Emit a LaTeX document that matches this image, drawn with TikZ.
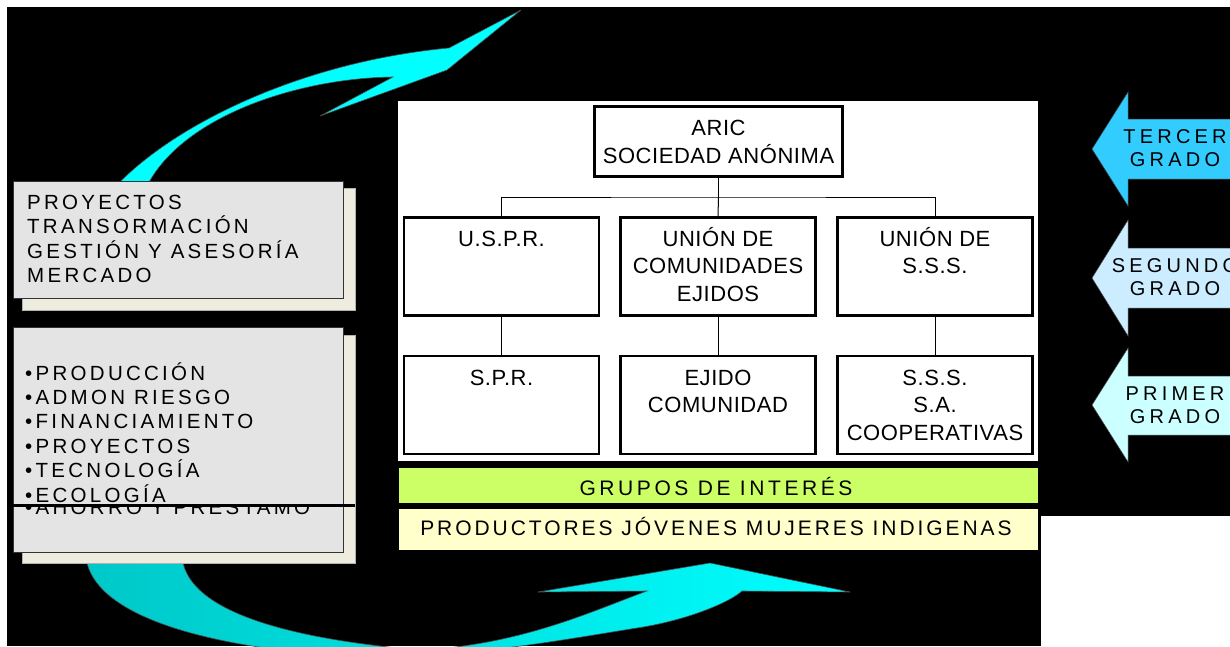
\documentclass[tikz,border=0pt]{standalone}
\usepackage{fontspec}
\setmainfont{Liberation Sans}
\newfontfamily\spaced[LetterSpace=16]{Liberation Sans}
\newfontfamily\widesp[LetterSpace=21]{Liberation Sans}
\newfontfamily\barsp[LetterSpace=14]{Liberation Sans}
\newfontfamily\grsp[LetterSpace=17]{Liberation Sans}
\newfontfamily\orgsp[LetterSpace=2.5]{Liberation Sans}
\definecolor{cyanA}{HTML}{00FFFF}
\definecolor{tealA}{HTML}{00C8C8}
\definecolor{tercer}{HTML}{33CCFF}
\definecolor{segundo}{HTML}{CCECFF}
\definecolor{primer}{HTML}{CCFFFF}
\definecolor{granite}{HTML}{E4E4E4}
\definecolor{beige}{HTML}{EEEBDF}
\definecolor{grupo}{HTML}{CCFF66}
\definecolor{prodc}{HTML}{FFFFCC}
\tikzset{
 curvarrow/.style={draw=gray!60!black, line width=0.6pt},
 blockarrow/.style={draw=gray!50!black, line width=0.5pt},
 gradotxt/.style={font=\widesp\fontsize{20}{23.5}\selectfont, align=center, inner sep=0, anchor=base},
 granbox/.style={draw=gray!40!black, line width=1pt, fill=granite, inner sep=0},
 shadowbox/.style={draw=gray!60, line width=1pt, fill=beige, inner sep=0},
 lefttxt/.style={font=\spaced\fontsize{20.5}{24.4}\selectfont, align=left, inner sep=0, anchor=base west},
 orgbox/.style={draw, line width=2.6pt, fill=white, inner sep=0, minimum width=195, minimum height=98},
 orgtxt/.style={font=\orgsp\fontsize{22}{27.5}\selectfont, align=center, inner sep=0, anchor=base},
 conn/.style={line width=1pt},
 barbox/.style={draw=black, line width=1pt, inner sep=0, minimum width=640},
}
\begin{document}
\begin{tikzpicture}[x=1pt,y=-1pt]
\useasboundingbox (0,0) rectangle (1230,646);
\clip (0,0) rectangle (1230,646);
\fill[white] (0,0) rectangle (1230,646);
\fill[black] (7,7) rectangle (1230,646);
\fill[white] (1041,516) rectangle (1230,646);

% curved arrows
\path[curvarrow, fill=cyanA] (118,184) .. controls (175,125) and (300,62) .. (449,48) -- (521,10) -- (447,70) -- (320,116) -- (393,77) .. controls (300,78) and (185,115) .. (148,184) -- cycle;
\path[curvarrow, left color=tealA, right color=cyanA] (87,563) .. controls (100,615) and (200,645) .. (330,655) .. controls (450,662) and (560,640) .. (643,627) .. controls (690,619) and (730,602) .. (742,591) -- (850,592) -- (710,563) -- (538,592) -- (647,591) .. controls (590,612) and (520,645) .. (420,650) .. controls (300,640) and (195,615) .. (183,563) -- cycle;

% left boxes
\node[shadowbox, minimum width=333, minimum height=122] (sh1) at (188.5,249) {};
\node[granbox, minimum width=330, minimum height=117] (box1) at (178,239.5) {};
\node[lefttxt] (box1T) at (27,282.5) {PROYECTOS\\TRANSORMACIÓN\\GESTIÓN Y ASESORÍA\\MERCADO};
\node[shadowbox, minimum width=333, minimum height=228] (sh2) at (188.5,449) {};
\node[granbox, minimum width=330, minimum height=225] (box2) at (178,439.5) {};
\node[lefttxt] (box2T) at (25,502) {•PRODUCCIÓN\\•ADMON RIESGO\\•FINANCIAMIENTO\\•PROYECTOS\\•TECNOLOGÍA\\•ECOLOGÍA};
\begin{scope}
\clip (13,507) rectangle (343,552);
\node[lefttxt] (ahorro) at (25,514) {•AHORRO Y PRESTAMO};
\end{scope}
\draw[line width=3pt] (13,505) -- (355,505);

% center panel
\node[fill=white, inner sep=0, minimum width=640, minimum height=360] (panel) at (718,281) {};
\node[orgbox, minimum width=248, minimum height=70] (aric) at (718.5,141.5) {};
\node[orgtxt, font=\orgsp\fontsize{22}{28}\selectfont] (aricT) at (718.5,163) {ARIC\\SOCIEDAD ANÓNIMA};
\node[orgbox] (uspr) at (501.5,266.5) {};
\node[orgbox] (ucom) at (718,266.5) {};
\node[orgbox] (usss) at (935,266.5) {};
\node[orgbox] (spr) at (501.5,405) {};
\node[orgbox] (ejido) at (718,405) {};
\node[orgbox] (sss) at (935,405) {};
\node[orgtxt] (usprT) at (501.5,246) {U.S.P.R.};
\node[orgtxt] (ucomT) at (718,301) {UNIÓN DE\\COMUNIDADES\\EJIDOS};
\node[orgtxt] (usssT) at (935,273.5) {UNIÓN DE\\S.S.S.};
\node[orgtxt] (sprT) at (501.5,385) {S.P.R.};
\node[orgtxt] (ejidoT) at (718,412.5) {EJIDO\\COMUNIDAD};
\node[orgtxt] (sssT) at (935,440) {S.S.S.\\S.A.\\COOPERATIVAS};
\coordinate (bus) at (718.5,197);
\draw[conn] (aric.south) -- (bus);
\draw[conn] (uspr.north) |- (bus) -| (usss.north);
\draw[conn] (bus) -- (ucom.north);
\draw[conn] (uspr.south) -- (spr.north);
\draw[conn] (ucom.south) -- (ejido.north);
\draw[conn] (usss.south) -- (sss.north);

% bars
\node[barbox, fill=grupo, minimum height=36] (grupos) at (718,485) {};
\node[font=\grsp\fontsize{21}{25}\selectfont, inner sep=0, anchor=base] (gruposT) at (716,495.5) {GRUPOS DE INTERÉS};
\node[barbox, fill=prodc, minimum height=42] (prod) at (718,529) {};
\node[font=\barsp\fontsize{21}{25}\selectfont, inner sep=0, anchor=base] (prodT) at (716,535.5) {PRODUCTORES JÓVENES MUJERES INDIGENAS};

% block arrows
\path[blockarrow, fill=tercer] (1092,149) -- (1128,92) -- (1128,119) -- (1240,119) -- (1240,179) -- (1128,179) -- (1128,206) -- cycle;
\path[blockarrow, fill=segundo] (1092,278) -- (1128,220) -- (1128,248) -- (1240,248) -- (1240,308) -- (1128,308) -- (1128,336) -- cycle;
\path[blockarrow, fill=primer] (1092,405) -- (1128,348) -- (1128,376) -- (1240,376) -- (1240,435) -- (1128,435) -- (1128,462) -- cycle;
\node[gradotxt] (tercerT) at (1175,166.5) {TERCER\\GRADO};
\node[gradotxt] (segundoT) at (1175,295.5) {SEGUNDO\\GRADO};
\node[gradotxt] (primerT) at (1175,423.5) {PRIMER\\GRADO};
\end{tikzpicture}
\end{document}
